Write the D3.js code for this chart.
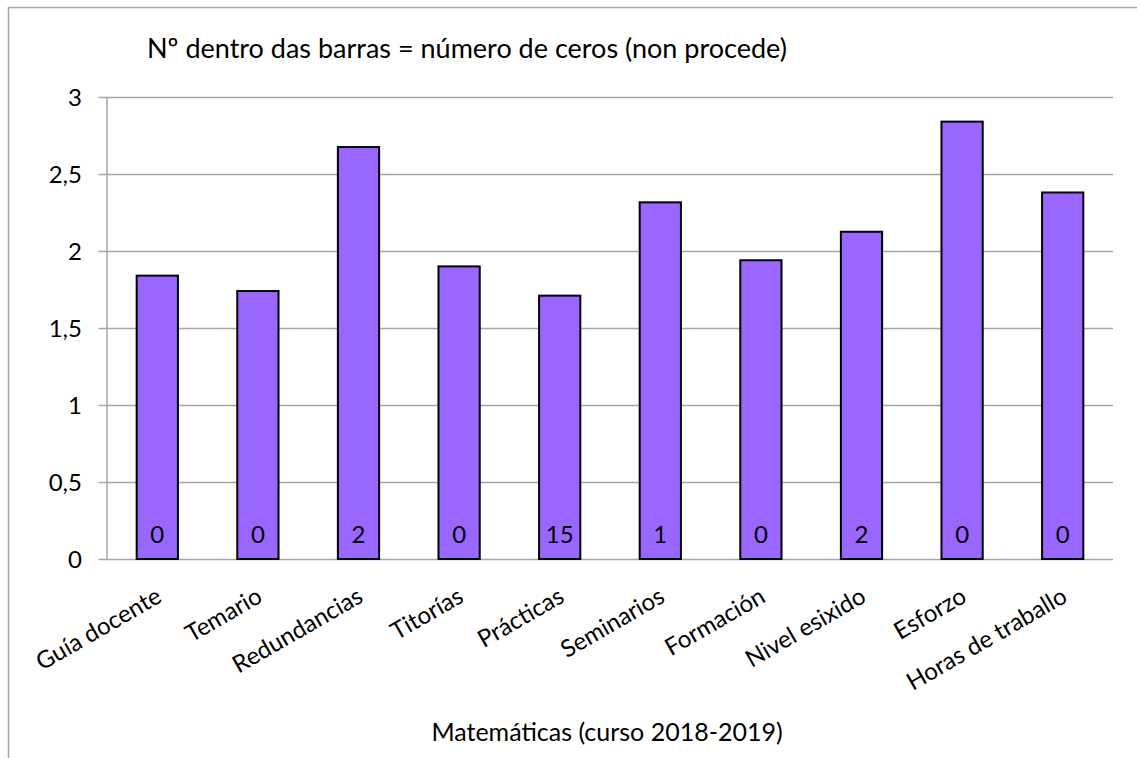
<!DOCTYPE html>
<html>
<head>
<meta charset="utf-8">
<script src="https://cdn.jsdelivr.net/npm/d3@7"></script>
<style>
  body { margin: 0; background: #fff; }
  svg { display: block; font-family: Lato, "Open Sans", sans-serif; }
</style>
</head>
<body>
<figure style="margin:0"></figure>
<script>
// chart data
const categories = [
  "Guía docente", "Temario", "Redundancias", "Titorías", "Prácticas",
  "Seminarios", "Formación", "Nivel esixido", "Esforzo", "Horas de traballo",
];
const values = [1.84, 1.74, 2.675, 1.90, 1.71, 2.316, 1.94, 2.125, 2.84, 2.38];
const zeroCounts = [0, 0, 2, 0, 15, 1, 0, 2, 0, 0];
const yTicks = [0, 0.5, 1, 1.5, 2, 2.5, 3];

const chartTitle = "Nº dentro das barras = número de ceros (non procede)";
const xTitle = "Matemáticas (curso 2018-2019)";

const draw = () => {
  const width = 1137;
  const height = 758;
  const margin = { top: 97, right: 24, bottom: 199, left: 107 };

  const svg = d3.select("figure").append("svg")
    .attr("width", width)
    .attr("height", height);

  // outer chart frame (only top and left edges visible)
  svg.append("rect")
    .attr("x", 8.5)
    .attr("y", 7.5)
    .attr("width", width + 20)
    .attr("height", height + 20)
    .style("fill", "none")
    .style("stroke", "#a6a6a6")
    .style("stroke-width", 1.5);

  const x = d3.scaleBand()
    .domain(categories)
    .range([margin.left, width - margin.right])
    .paddingInner(0.59)
    .paddingOuter(0.295);

  const y = d3.scaleLinear()
    .domain([0, 3])
    .range([height - margin.bottom, margin.top]);

  // gridlines + y ticks
  const yAxis = d3.axisLeft(y)
    .tickValues(yTicks)
    .tickSize(-(width - margin.right - margin.left))
    .tickPadding(27)
    .tickFormat((d) => d3.format("")(d).replace(".", ","));

  const gy = svg.append("g")
    .attr("transform", `translate(${margin.left}, 0)`)
    .call(yAxis);
  gy.select(".domain").remove();
  gy.selectAll(".tick line")
    .style("stroke", "#a6a6a6")
    .style("stroke-width", 1.5)
    .attr("x1", 8.5 - 17);
  gy.selectAll(".tick text")
    .style("font-family", "Lato, sans-serif")
    .style("font-size", "24px")
    .style("fill", "#000")
    .attr("x", -25)
    .attr("dy", "0.36em");

  // vertical axis line
  svg.append("line")
    .attr("x1", margin.left)
    .attr("x2", margin.left)
    .attr("y1", y(3))
    .attr("y2", y(0))
    .style("stroke", "#a6a6a6")
    .style("stroke-width", 1.5);

  // bars
  svg.selectAll("rect.bar")
    .data(values)
    .enter()
    .append("rect")
    .attr("class", "bar")
    .attr("x", (d, i) => x(categories[i]))
    .attr("y", (d) => y(d))
    .attr("width", x.bandwidth())
    .attr("height", (d) => y(0) - y(d))
    .style("fill", "#9966ff")
    .style("stroke", "#000")
    .style("stroke-width", 2);

  // zero counts inside bars
  svg.selectAll("text.count")
    .data(zeroCounts)
    .enter()
    .append("text")
    .attr("class", "count")
    .attr("x", (d, i) => x(categories[i]) + x.bandwidth() / 2)
    .attr("y", y(0) - 25)
    .attr("dy", "0.36em")
    .style("text-anchor", "middle")
    .style("font-size", "24px")
    .text((d) => d);

  // category labels
  svg.selectAll("text.cat")
    .data(categories)
    .enter()
    .append("text")
    .attr("class", "cat")
    .attr("transform", (d) =>
      `translate(${x(d) + x.bandwidth() / 2 + 6}, ${y(0) + 42}) rotate(-30)`)
    .style("text-anchor", "end")
    .style("font-size", "24px")
    .text((d) => d);

  // titles
  svg.append("text")
    .attr("x", 147)
    .attr("y", 58)
    .style("font-size", "27px")
    .text(chartTitle);

  svg.append("text")
    .attr("x", 607)
    .attr("y", 741)
    .style("text-anchor", "middle")
    .style("font-size", "25px")
    .text(xTitle);
};

window.onload = () => {
  draw();
};
</script>
</body>
</html>
